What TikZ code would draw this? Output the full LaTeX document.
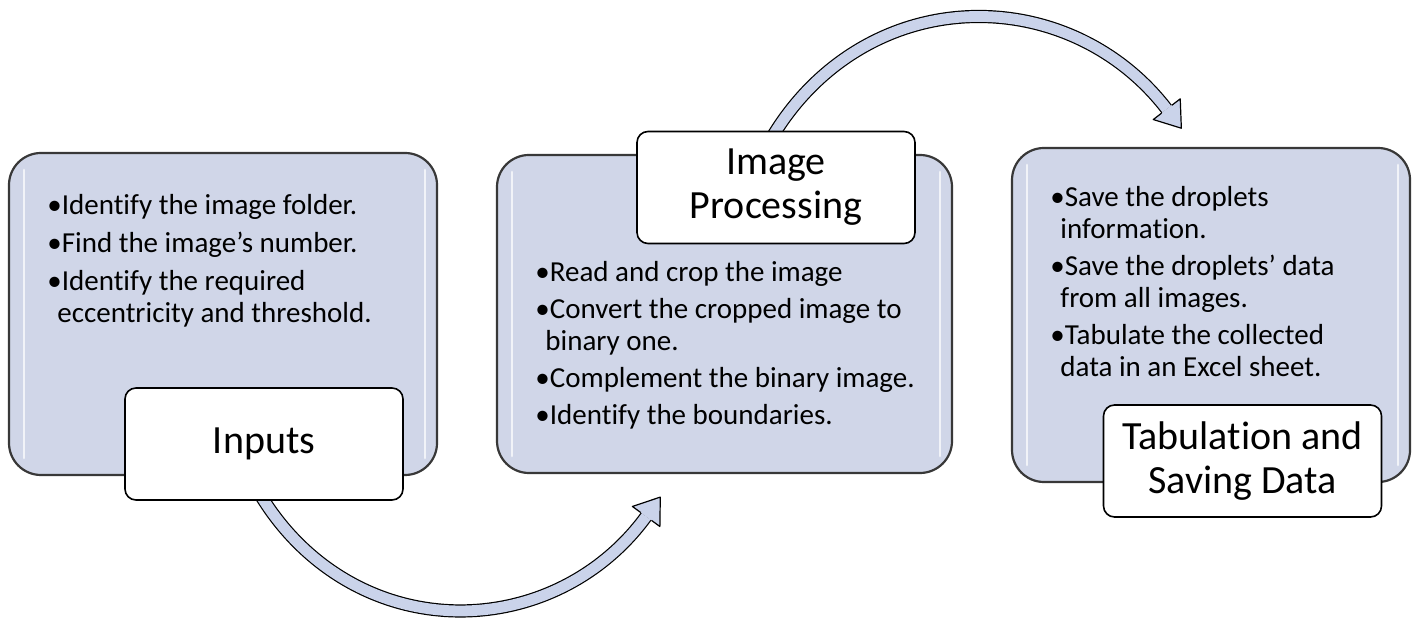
\documentclass[tikz,border=0pt]{standalone}
\usepackage{fontspec}
\setmainfont{Carlito}[Ligatures=NoCommon]
\usetikzlibrary{calc}
\usetikzlibrary{backgrounds}
\definecolor{panelfill}{HTML}{D0D6E8}
\definecolor{panelline}{HTML}{383838}
\definecolor{arrowfill}{HTML}{CAD3EA}

\begin{document}
\begin{tikzpicture}[x=0.5pt,y=0.5pt,
	panel/.style={draw=panelline, line width=1.1pt, fill=panelfill, rounded corners=16pt, inner sep=0pt},
	tag/.style={draw=black, line width=0.8pt, fill=white, rounded corners=5.5pt, inner sep=0pt,
		minimum width=139pt, minimum height=56pt, align=center, font=\fontsize{20}{22}\selectfont},
	bullets/.style={anchor=north west, align=left, inner sep=0pt, font=\fontsize{14.5}{16}\selectfont},
	shine/.style={draw=white!70!panelfill, line width=1.2pt, line cap=round},
	shaft/.style={draw=black, line width=0.6pt, double=arrowfill, double distance=5.4pt},
	head/.style={draw=black, line width=0.6pt, line join=round}]
	\useasboundingbox (0,0) rectangle (1416,620);

	% the three panels
	\foreach \name/\cx/\cy/\bw/\bh in {b1/223/306/428/322, b2/724.5/306/455/318, b3/1211/305/398/334} {
		\node[panel, minimum width=\bw*0.5pt, minimum height=\bh*0.5pt] (\name) at (\cx,\cy) {};
		\draw[shine] ($(\name.north west)+(16,-18)$) -- ($(\name.south west)+(16,18)$);
		\draw[shine] ($(\name.north east)+(-13,-18)$) -- ($(\name.south east)+(-13,18)$);
	}

	% bullet texts
	\node[bullets] (t1) at (47,426) {•Identify the image folder.\\[3pt]•Find the image’s number.\\[3pt]•Identify the required\\\hspace*{5pt}eccentricity and threshold.};
	\node[bullets] (t2) at (535,359) {•Read and crop the image\\[2.5pt]•Convert the cropped image to\\\hspace*{5pt}binary one.\\[2.5pt]•Complement the binary image.\\[2.5pt]•Identify the boundaries.};
	\node[bullets] (t3) at (1050,434) {•Save the droplets\\\hspace*{5pt}information.\\[2.5pt]•Save the droplets’ data\\\hspace*{5pt}from all images.\\[2.5pt]•Tabulate the collected\\\hspace*{5pt}data in an Excel sheet.};

	% titles
	\node[tag] (inputs) at (264,176) {Inputs};
	\node[tag] (proc) at (776,432.5) {Image\\Processing};
	\node[tag] (tab) at (1242.5,159) {Tabulation and\\Saving Data};

	% curved arrows, behind the boxes
	\begin{scope}[on background layer]
		\draw[shaft, shorten <=-3pt] (inputs.south) arc[start angle=211.4, end angle=323.9, radius=230] coordinate (tipa);
		\fill[arrowfill] ($(tipa)+(143.9:17)$) -- ($(tipa)+(53.9:24)$) -- ($(tipa)+(-36.1:17)$) -- cycle;
		\draw[head] ($(tipa)+(143.9:6.6)$) -- ($(tipa)+(143.9:17)$) -- ($(tipa)+(53.9:24)$) -- ($(tipa)+(-36.1:17)$) -- ($(tipa)+(-36.1:6.6)$);

		\draw[shaft, shorten <=-3pt] (proc.north) arc[start angle=148.8, end angle=37.5, radius=237] coordinate (tipb);
		\fill[arrowfill] ($(tipb)+(37.5:17)$) -- ($(tipb)+(-52.5:24)$) -- ($(tipb)+(-142.5:17)$) -- cycle;
		\draw[head] ($(tipb)+(37.5:6.6)$) -- ($(tipb)+(37.5:17)$) -- ($(tipb)+(-52.5:24)$) -- ($(tipb)+(-142.5:17)$) -- ($(tipb)+(-142.5:6.6)$);
	\end{scope}
\end{tikzpicture}
\end{document}
